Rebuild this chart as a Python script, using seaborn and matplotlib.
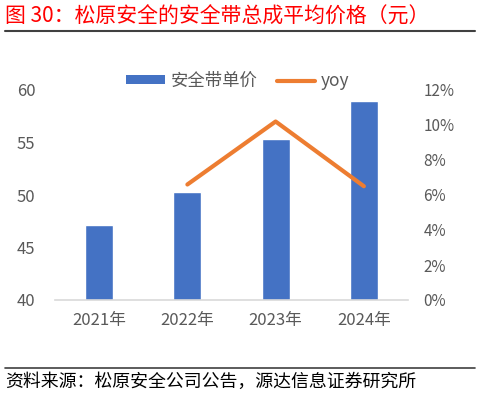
import matplotlib
matplotlib.use("Agg")
import matplotlib.pyplot as plt
import seaborn as sns
import numpy as np
import pandas as pd
from matplotlib.patches import Patch
from matplotlib.lines import Line2D
from matplotlib.ticker import FuncFormatter

years = ["2021年", "2022年", "2023年", "2024年"]
price = [47.15, 50.25, 55.35, 58.95]
yoy_years = ["2022年", "2023年", "2024年"]
yoy = [0.066, 0.102, 0.065]
left_ticks = [40, 45, 50, 55, 60]
right_ticks = [0, 0.02, 0.04, 0.06, 0.08, 0.10, 0.12]

title = "图 30：松原安全的安全带总成平均价格（元）"
source = "资料来源：松原安全公司公告，源达信息证券研究所"
bar_label = "安全带单价"
line_label = "yoy"

sns.set_theme(style="white")
plt.rcParams['font.family'] = ['Noto Sans CJK SC', 'DejaVu Sans']

BLUE = "#4472C4"
ORANGE = "#ED7D31"
GRAY = "#595959"

fig = plt.figure(figsize=(4.81, 3.96), dpi=100)
ax = fig.add_axes([55/481, 1-300/396, 353/481, 210/396])

df = pd.DataFrame({"year": years, "price": price})
sns.barplot(data=df, x="year", y="price", color=BLUE, width=0.32,
            saturation=1, ax=ax, order=years)
ax.set_ylim(left_ticks[0], left_ticks[-1])
ax.set_yticks(left_ticks)
ax.set_xlabel("")
ax.set_ylabel("")

ax2 = ax.twinx()
pos = {y: i for i, y in enumerate(years)}
dfl = pd.DataFrame({"x": [pos[y] for y in yoy_years], "yoy": yoy})
sns.lineplot(data=dfl, x="x", y="yoy", color=ORANGE, linewidth=3,
             ax=ax2, solid_capstyle="round")
ax2.set_ylim(right_ticks[0], right_ticks[-1])
ax2.set_yticks(right_ticks)
ax2.yaxis.set_major_formatter(FuncFormatter(lambda v, p: f"{v*100:.0f}%"))
ax2.set_xlabel("")
ax2.set_ylabel("")
ax.set_xlim(-0.5, 3.5)
ax.set_xticks(range(len(years)))
ax.set_xticklabels(years)

for a in (ax, ax2):
    for s in a.spines.values():
        s.set_visible(False)
    a.grid(False)
ax.spines["bottom"].set_visible(True)
ax.spines["bottom"].set_color("#D9D9D9")
ax.spines["bottom"].set_linewidth(1.2)

ax.tick_params(axis="y", length=0, pad=14, labelsize=12, labelcolor=GRAY)
ax.tick_params(axis="x", length=0, pad=9, labelsize=12, labelcolor=GRAY)
ax2.tick_params(axis="y", length=0, pad=11, labelsize=11, labelcolor=GRAY)

handles = [Patch(facecolor=BLUE, edgecolor="none", label=bar_label),
           Line2D([0], [0], color=ORANGE, lw=3, solid_capstyle="round", label=line_label)]
leg = fig.legend(handles=handles, loc="center", bbox_to_anchor=(238/481, 1-81/396),
                 ncol=2, frameon=False, fontsize=12.5, handlelength=2.2,
                 handleheight=0.45, handletextpad=0.35, columnspacing=1.1)
for t in leg.get_texts():
    t.set_color(GRAY)

fig.text(5/481, 1-17/396, title, color="#FF0000", fontsize=15, va="center", ha="left")
fig.add_artist(Line2D([5/481, 475/481], [1-31/396, 1-31/396], color="#404040", lw=1.5))
fig.add_artist(Line2D([5/481, 475/481], [1-368/396, 1-368/396], color="#404040", lw=1.2))
fig.text(5/481, 1-382/396, source, color="black", fontsize=12.9, va="center", ha="left")

fig.savefig("out.png", dpi=100)
